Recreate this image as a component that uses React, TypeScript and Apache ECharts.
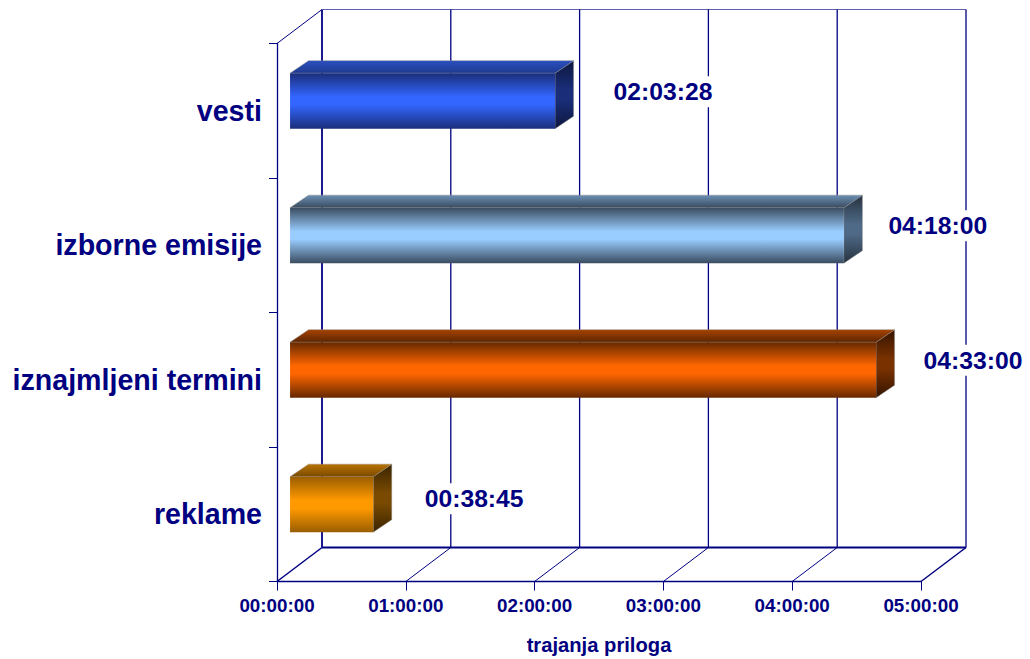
import React, { useEffect, useRef } from "react";
import * as echarts from "echarts";

// Listed bottom to top, the way the category axis counts them.
const categories = ["reklame", "iznajmljeni termini", "izborne emisije", "vesti"];
const durations = ["00:38:45", "04:33:00", "04:18:00", "02:03:28"];
const hourTicks = [0, 3600, 7200, 10800, 14400, 18000];

const NAVY = "#000080";
const FONT = '"Liberation Sans", Arial, sans-serif';

// Wall depth of the box, and where the bars sit inside that depth.
const DEPTH_X = 45;
const DEPTH_Y = 34;
const BAR_NEAR = 0.29;
const BAR_DEPTH_X = 18.5;
const BAR_DEPTH_Y = 12.5;
const BAR_HEIGHT = 55.5;

// Front face edge/centre, top face, side face edge/centre colours per bar.
const palettes = [
  { edge: "#9a5e00", mid: "#ff9900", top: ["#b97300", "#7a4a00"], sideEdge: "#3a2400", sideMid: "#7a4a00" },
  { edge: "#662900", mid: "#ff6600", top: ["#a84300", "#5c2500"], sideEdge: "#331400", sideMid: "#7a3100" },
  { edge: "#3a4c60", mid: "#99ccff", top: ["#6c8fb3", "#3a4c60"], sideEdge: "#26323f", sideMid: "#4f6a87" },
  { edge: "#1a2e7a", mid: "#3366ff", top: ["#2a4fbf", "#1f3a90"], sideEdge: "#0d173d", sideMid: "#1a2e7a" },
];

// Label placement relative to the far end of each bar.
const labelShift = [
  { x: 33, y: -15.5 },
  { x: 29, y: -19.5 },
  { x: 26, y: -19.5 },
  { x: 40, y: -19 },
];

const toSeconds = (t: string) => {
  const [h, m, s] = t.split(":").map(Number);
  return h * 3600 + m * 60 + s;
};

const toClock = (v: number) => {
  const p = (n: number) => String(n).padStart(2, "0");
  return `${p(Math.floor(v / 3600))}:${p(Math.floor(v / 60) % 60)}:${p(v % 60)}`;
};

const seconds = durations.map(toSeconds);

const vertical = (a: string, b: string) =>
  new echarts.graphic.LinearGradient(0, 0, 0, 1, [
    { offset: 0, color: a },
    { offset: 0.43, color: b },
    { offset: 0.57, color: b },
    { offset: 1, color: a },
  ]);

const seg = (x1: number, y1: number, x2: number, y2: number, lineWidth: number, stroke = NAVY) => ({
  type: "line",
  shape: { x1, y1, x2, y2 },
  style: { stroke, lineWidth },
  silent: true,
});

// Back wall and floor of the box, one rule per hour tick.
const renderWalls = (params: any, api: any) => {
  const sys = params.coordSys;
  const x = api.coord([api.value(0), 0])[0];
  const bottom = sys.y + sys.height;
  const children: any[] = [
    seg(x + DEPTH_X, sys.y - DEPTH_Y, x + DEPTH_X, bottom - DEPTH_Y, params.dataIndex === 0 ? 1.8 : 1.3),
    seg(x, bottom, x + DEPTH_X, bottom - DEPTH_Y, params.dataIndex === 0 || params.dataIndex === 5 ? 1.5 : 1),
  ];
  if (params.dataIndex === 0) {
    children.push(
      seg(sys.x, sys.y, sys.x + DEPTH_X, sys.y - DEPTH_Y, 1),
      seg(sys.x + DEPTH_X, sys.y - DEPTH_Y, sys.x + sys.width + DEPTH_X, sys.y - DEPTH_Y, 1, "#6060b0"),
      seg(sys.x + DEPTH_X, bottom - DEPTH_Y, sys.x + sys.width + DEPTH_X, bottom - DEPTH_Y, 2),
    );
  }
  return { type: "group", children };
};

// Extruded bar: side, top and front faces, then the value beside it.
const renderBar = (params: any, api: any) => {
  const i = params.dataIndex;
  const pal = palettes[i];
  const value = api.value(0);
  const [vx, cy] = api.coord([value, api.value(1)]);
  const [x0] = api.coord([0, api.value(1)]);
  const nx = BAR_NEAR * DEPTH_X;
  const ny = BAR_NEAR * DEPTH_Y;
  const dx = BAR_DEPTH_X;
  const dy = BAR_DEPTH_Y;
  const left = x0 + nx;
  const right = vx + nx;
  const top = cy - ny - BAR_HEIGHT / 2;
  const bottom = top + BAR_HEIGHT;
  const rim = "rgba(140,140,140,0.75)";
  return {
    type: "group",
    children: [
      {
        type: "polygon",
        shape: { points: [[right, top], [right + dx, top - dy], [right + dx, bottom - dy], [right, bottom]] },
        style: { fill: vertical(pal.sideEdge, pal.sideMid), stroke: rim, lineWidth: 0.6 },
      },
      {
        type: "polygon",
        shape: { points: [[left, top], [left + dx, top - dy], [right + dx, top - dy], [right, top]] },
        style: {
          fill: new echarts.graphic.LinearGradient(0, 1, 0, 0, [
            { offset: 0, color: pal.top[1] },
            { offset: 1, color: pal.top[0] },
          ]),
          stroke: rim,
          lineWidth: 0.6,
        },
      },
      {
        type: "rect",
        shape: { x: left, y: top, width: right - left, height: BAR_HEIGHT },
        style: { fill: vertical(pal.edge, pal.mid) },
      },
      {
        type: "text",
        x: right + dx + labelShift[i].x,
        y: cy + labelShift[i].y,
        style: {
          text: durations[i],
          fill: NAVY,
          font: `bold 24.7px ${FONT}`,
          align: "left",
          verticalAlign: "middle",
          backgroundColor: "#ffffff",
          padding: [3, 0, 3, 0],
        },
      },
    ],
  };
};

export default function App() {
  const ref = useRef<HTMLDivElement>(null);

  useEffect(() => {
    const chart = echarts.init(ref.current!, null, { renderer: "svg" });
    chart.setOption({
      animation: false,
      backgroundColor: "#ffffff",
      grid: { left: 277, top: 43.5, width: 644, height: 538, containLabel: false, outerBoundsMode: "none" },
      xAxis: {
        type: "value",
        min: 0,
        max: hourTicks[hourTicks.length - 1],
        interval: 3600,
        splitLine: { show: false },
        axisLine: { show: true, onZero: false, lineStyle: { color: NAVY, width: 1.3 } },
        axisTick: { show: true, length: 9, lineStyle: { color: NAVY, width: 1 } },
        axisLabel: {
          margin: 14,
          color: NAVY,
          fontFamily: FONT,
          fontWeight: "bold",
          fontSize: 18.8,
          showMinLabel: true,
          showMaxLabel: true,
          formatter: (v: number) => toClock(v),
        },
        name: "trajanja priloga",
        nameLocation: "middle",
        nameGap: 53,
        nameTextStyle: { color: NAVY, fontFamily: FONT, fontWeight: "bold", fontSize: 20.2 },
      },
      yAxis: {
        type: "category",
        data: categories,
        splitLine: { show: false },
        axisLine: { show: true, onZero: false, lineStyle: { color: NAVY, width: 1.3 } },
        axisTick: { show: true, length: 8, lineStyle: { color: NAVY, width: 1 } },
        axisLabel: {
          interval: 0,
          margin: 15,
          color: NAVY,
          fontFamily: FONT,
          fontWeight: "bold",
          fontSize: 28.6,
        },
      },
      series: [
        {
          type: "custom",
          z: 1,
          silent: true,
          clip: false,
          renderItem: renderWalls,
          data: hourTicks.map((t) => [t]),
          encode: { x: 0 },
        },
        {
          type: "custom",
          z: 3,
          silent: true,
          clip: false,
          renderItem: renderBar,
          data: seconds.map((s, i) => [s, i]),
          encode: { x: 0, y: 1 },
        },
      ],
    });
    return () => chart.dispose();
  }, []);

  return <div ref={ref} style={{ position: "absolute", left: 0, top: 0, width: 1030, height: 659 }} />;
}
